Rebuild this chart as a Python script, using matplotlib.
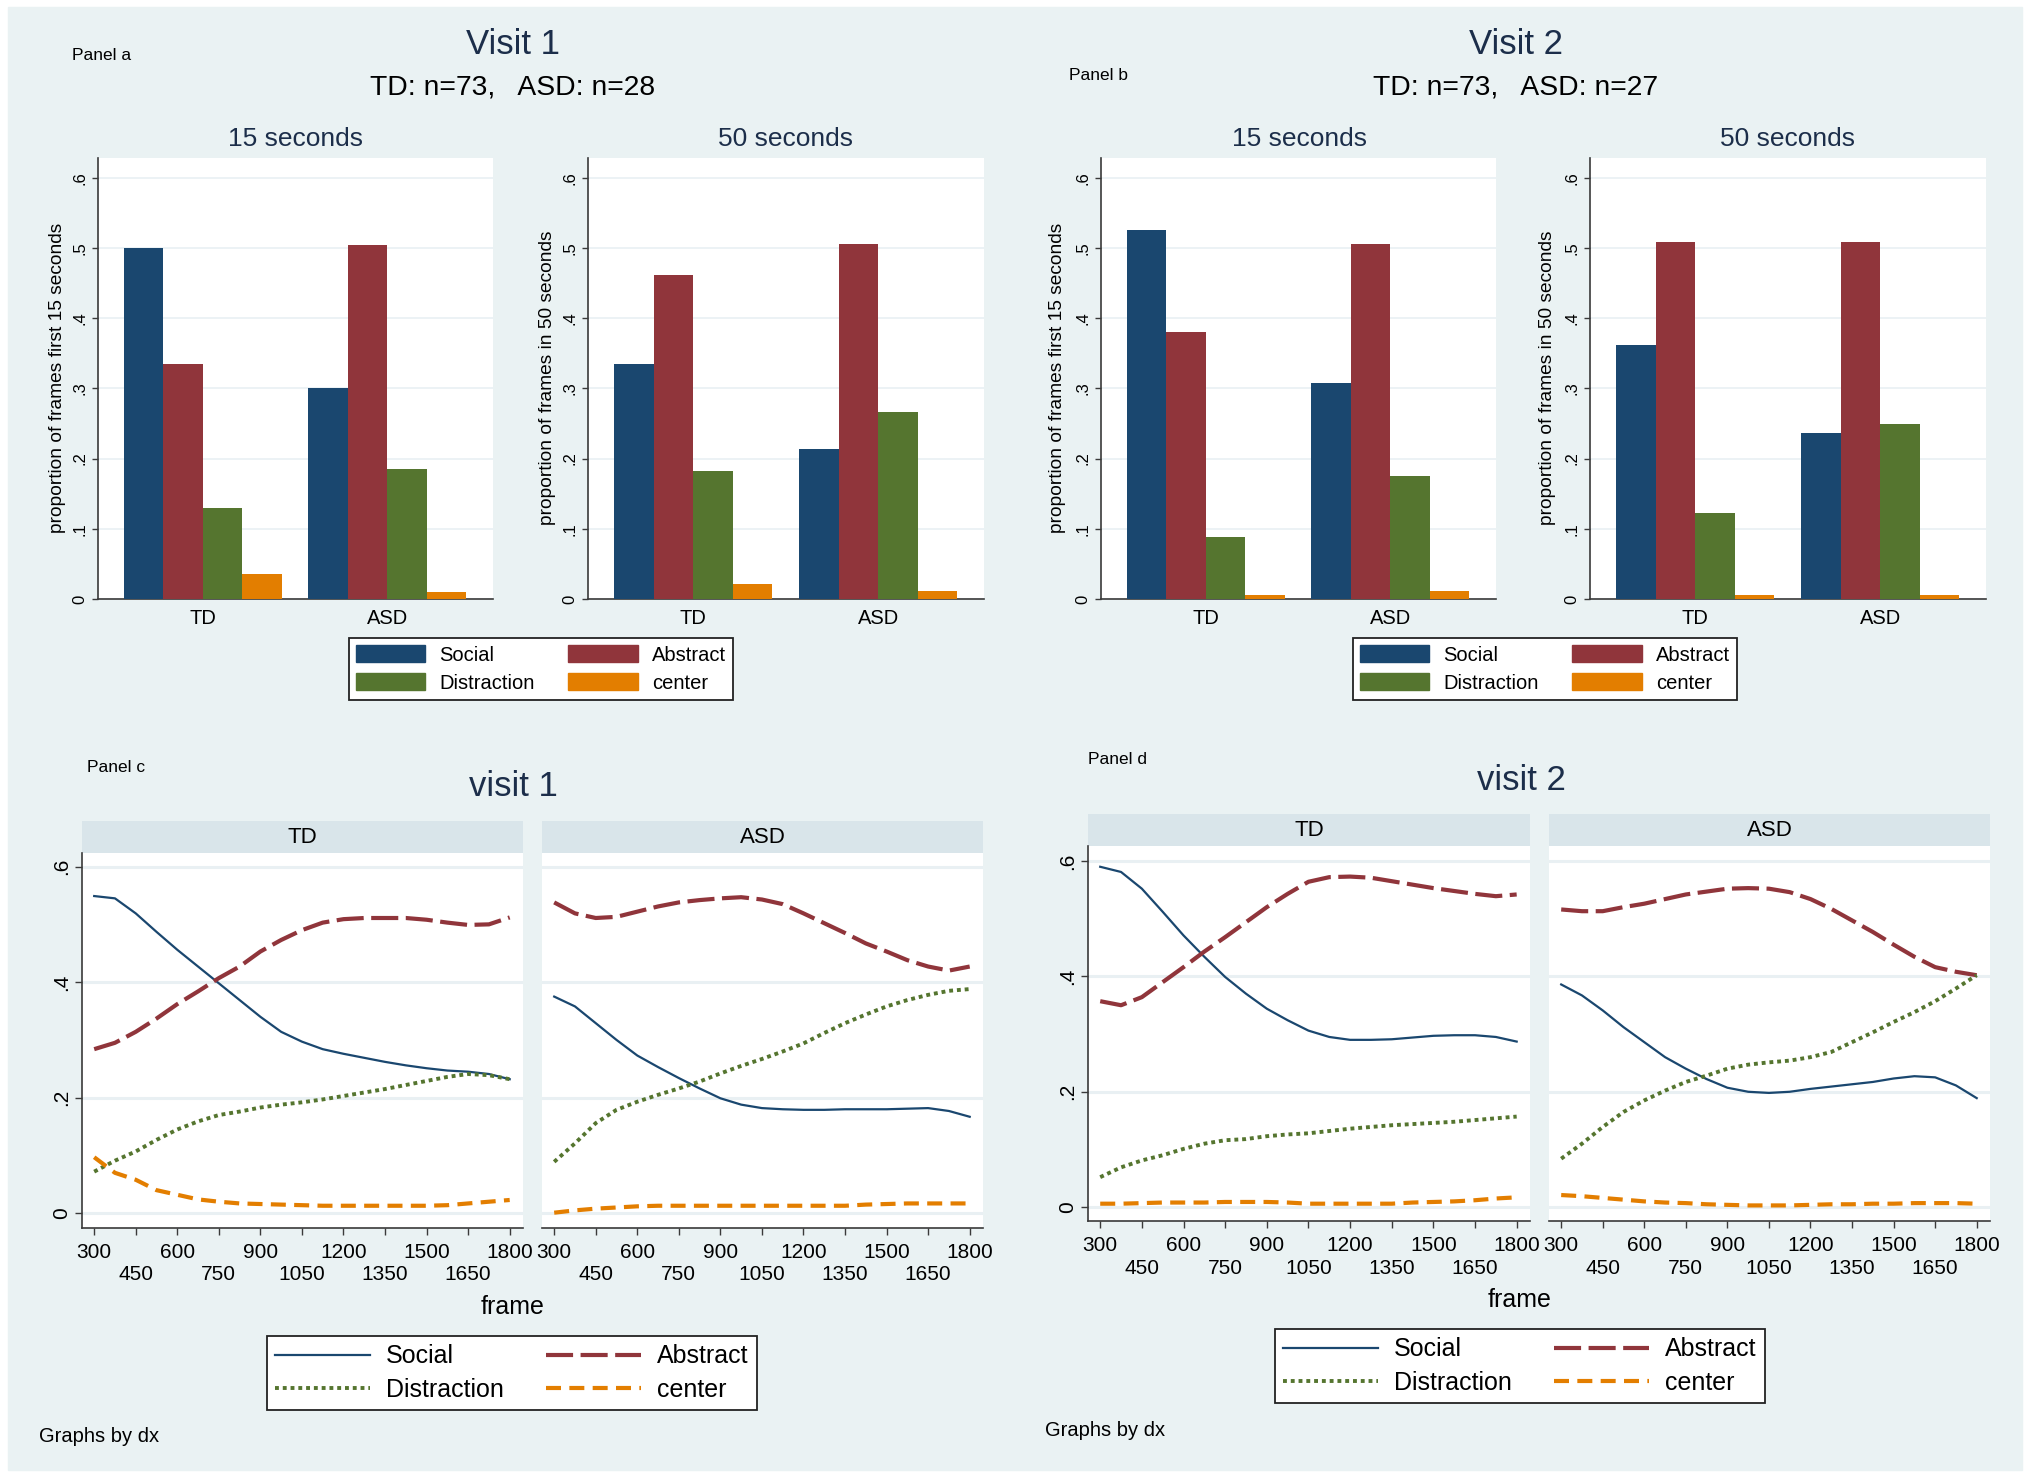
import numpy as np
import matplotlib.pyplot as plt
from matplotlib.lines import Line2D
from matplotlib.patches import Patch, Rectangle

W, H = 2030, 1478
plt.rcParams['font.family'] = ['Liberation Sans', 'DejaVu Sans']

groups = ['TD', 'ASD']
categories = ['Social', 'Abstract', 'Distraction', 'center']
colors = ['#1a476f', '#90353b', '#55752f', '#e37e00']

# bar heights, one row per category, [TD, ASD]
v1_15s = [[0.500, 0.301], [0.334, 0.504], [0.129, 0.185], [0.036, 0.010]]
v1_50s = [[0.334, 0.214], [0.462, 0.505], [0.182, 0.267], [0.021, 0.012]]
v2_15s = [[0.525, 0.308], [0.380, 0.505], [0.089, 0.175], [0.006, 0.011]]
v2_50s = [[0.362, 0.237], [0.508, 0.508], [0.122, 0.249], [0.006, 0.006]]

# smoothed proportions by frame
frames = [300, 375, 450, 525, 600, 675, 750, 825, 900, 975, 1050,
          1125, 1200, 1275, 1350, 1425, 1500, 1575, 1650, 1725, 1800]

v1_td_social = [.549, .545, .519, .487, .456, .427, .398, .369, .340, .314, .297,
                .284, .276, .269, .262, .256, .251, .247, .245, .241, .232]
v1_td_abstract = [.284, .295, .314, .337, .362, .384, .407, .427, .453, .473, .490,
                  .503, .509, .511, .511, .511, .508, .503, .499, .500, .512]
v1_td_distraction = [.072, .091, .107, .127, .145, .159, .170, .176, .183, .188, .192,
                     .197, .203, .209, .215, .222, .229, .236, .241, .239, .232]
v1_td_center = [.097, .070, .058, .040, .032, .024, .020, .017, .016, .015, .014,
                .013, .013, .013, .013, .013, .013, .014, .017, .020, .023]

v1_asd_social = [.375, .358, .329, .300, .273, .253, .234, .216, .199, .188, .182,
                 .180, .179, .179, .180, .180, .180, .181, .182, .177, .167]
v1_asd_abstract = [.538, .519, .511, .513, .522, .531, .538, .542, .545, .547, .543,
                   .535, .519, .502, .485, .467, .453, .438, .427, .420, .427]
v1_asd_distraction = [.089, .121, .156, .179, .193, .205, .216, .228, .242, .255, .267,
                      .280, .294, .312, .329, .344, .358, .369, .378, .385, .388]
v1_asd_center = [.001, .005, .008, .010, .012, .013, .013, .013, .013, .013, .013,
                 .013, .013, .013, .013, .015, .016, .017, .017, .017, .017]

v2_td_social = [.590, .581, .552, .512, .471, .434, .399, .370, .344, .324, .306,
                .295, .290, .290, .291, .294, .297, .298, .298, .295, .287]
v2_td_abstract = [.357, .350, .364, .390, .416, .443, .468, .494, .520, .543, .564,
                  .572, .573, .571, .565, .559, .553, .548, .543, .539, .542]
v2_td_distraction = [.052, .069, .081, .090, .101, .110, .116, .118, .123, .126, .128,
                     .132, .136, .139, .142, .144, .146, .148, .151, .154, .157]
v2_td_center = [.006, .006, .007, .008, .008, .008, .009, .009, .009, .008, .006,
                .006, .006, .006, .006, .008, .009, .010, .012, .015, .017]

v2_asd_social = [.386, .367, .341, .312, .286, .260, .240, .222, .207, .200, .198,
                 .200, .205, .209, .213, .217, .223, .227, .225, .211, .189]
v2_asd_abstract = [.516, .513, .513, .520, .526, .534, .542, .547, .552, .553, .552,
                   .546, .534, .517, .497, .477, .455, .434, .416, .408, .402]
v2_asd_distraction = [.084, .110, .139, .165, .185, .202, .217, .228, .240, .247, .251,
                      .254, .260, .269, .286, .303, .321, .338, .357, .379, .402]
v2_asd_center = [.021, .019, .016, .013, .010, .008, .007, .005, .004, .003, .003,
                 .003, .004, .005, .005, .006, .006, .007, .007, .007, .006]

line_styles = [dict(lw=1.6, ls='-'),
               dict(lw=3.0, ls=(0, (6.5, 1.8))),
               dict(lw=2.8, ls=(0, (1.0, 1.0))),
               dict(lw=3.0, ls=(0, (3.6, 2.0)))]

NAVY_TXT = '#1c2e4a'
AXCOL = '#3a3a3a'
GRID = '#e9f0f3'


fig = plt.figure(figsize=(W / 100, H / 100), dpi=100, facecolor='white')
fig.add_artist(Rectangle((8 / W, 1 - 1470 / H), 2014 / W, 1463 / H,
                         transform=fig.transFigure, color='#eaf2f3', zorder=-10))


def px_axes(x0, y0, x1, y1, **kw):
    return fig.add_axes([x0 / W, 1 - y1 / H, (x1 - x0) / W, (y1 - y0) / H], **kw)


def ftext(x, y, s, size, ha='center', color='black', **kw):
    fig.text(x / W, 1 - y / H, s, fontsize=size, ha=ha, va='center', color=color, **kw)


def bar_panel(x0, x1, vals, ylabel, ylab_x):
    ax = px_axes(x0, 158, x1, 599, facecolor='white')
    w = 0.214
    for i, col in enumerate(colors):
        ax.bar(np.arange(2) + (i - 1.5) * w, vals[i], width=w, color=col,
               label=categories[i], zorder=3)
    ax.set_xlim(-0.568, 1.572)
    ax.set_ylim(0, 0.628)
    ax.set_yticks([0, .1, .2, .3, .4, .5, .6])
    ax.set_yticklabels(['0', '.1', '.2', '.3', '.4', '.5', '.6'], rotation=90, va='center')
    ax.tick_params(axis='y', length=4.5, width=1, color=AXCOL, labelsize=12, pad=3)
    ax.set_xticks([0, 1])
    ax.set_xticklabels(groups)
    ax.tick_params(axis='x', length=0, labelsize=14.5, pad=7)
    ax.grid(axis='y', color=GRID, lw=1.2, zorder=0)
    for s in ['top', 'right']:
        ax.spines[s].set_visible(False)
    for s in ['left', 'bottom']:
        ax.spines[s].set_color(AXCOL)
        ax.spines[s].set_linewidth(1.2)
    ftext(ylab_x, 378, ylabel, 13.8, rotation=90)
    return ax


def bar_legend(ax, cx, cy):
    handles = [Patch(color=colors[i], label=categories[i]) for i in [0, 2, 1, 3]]
    leg = ax.legend(handles=handles, ncol=2, loc='center', bbox_to_anchor=(cx / W, 1 - cy / H),
                    bbox_transform=fig.transFigure, prop={'size': 14.5},
                    handlelength=3.45, handleheight=0.9, handletextpad=0.72,
                    columnspacing=1.65, labelspacing=0.42, borderpad=0.35,
                    fancybox=False, framealpha=1, edgecolor='#222222')
    leg.get_frame().set_linewidth(1.3)


def line_panel(x0, x1, y0, y1, strip_top, label, series, show_y, ylim):
    strip = px_axes(x0, strip_top, x1, y0, facecolor='#d9e5ea')
    strip.set_xticks([])
    strip.set_yticks([])
    for s in strip.spines.values():
        s.set_visible(False)
    strip.text(0.5, 0.47, label, transform=strip.transAxes, ha='center', va='center',
               fontsize=16)
    ax = px_axes(x0, y0, x1, y1, facecolor='white')
    for i, col in enumerate(colors):
        ax.plot(frames, series[i], color=col, label=categories[i], **line_styles[i])
    ax.set_xlim(256, 1848)
    ax.set_ylim(*ylim)
    ax.set_yticks([0, .2, .4, .6])
    ax.grid(axis='y', color=GRID, lw=2.2, zorder=0)
    upper = list(range(300, 1801, 300))
    lower = list(range(450, 1651, 300))
    ax.set_xticks(upper)
    ax.set_xticklabels([str(v) for v in upper])
    ax.set_xticks(lower, minor=True)
    ax.set_xticklabels([str(v) for v in lower], minor=True)
    ax.tick_params(axis='x', which='major', length=5, width=1, color=AXCOL, labelsize=15, pad=6)
    ax.tick_params(axis='x', which='minor', length=5, width=1, color=AXCOL, labelsize=15, pad=22)
    for s in ['top', 'right']:
        ax.spines[s].set_visible(False)
    ax.spines['bottom'].set_color(AXCOL)
    ax.spines['bottom'].set_linewidth(1.2)
    if show_y:
        ax.set_yticklabels(['0', '.2', '.4', '.6'], rotation=90, va='center')
        ax.tick_params(axis='y', length=5, width=1, color=AXCOL, labelsize=15, pad=3)
        ax.spines['left'].set_color(AXCOL)
        ax.spines['left'].set_linewidth(1.2)
    else:
        ax.spines['left'].set_visible(False)
        ax.tick_params(axis='y', length=0, labelleft=False)
    return ax


def line_legend(ax, cx, cy):
    handles = [Line2D([], [], color=colors[i], label=categories[i], **line_styles[i])
               for i in [0, 2, 1, 3]]
    leg = ax.legend(handles=handles, ncol=2, loc='center', bbox_to_anchor=(cx / W, 1 - cy / H),
                    bbox_transform=fig.transFigure, prop={'size': 18},
                    handlelength=3.8, handletextpad=0.64, columnspacing=1.7,
                    labelspacing=0.38, borderpad=0.33,
                    fancybox=False, framealpha=1, edgecolor='#222222')
    leg.get_frame().set_linewidth(1.3)


# panel a
ftext(72, 55, 'Panel a', 12.5, ha='left')
ftext(513, 45, 'Visit 1', 25, color=NAVY_TXT)
ftext(513, 87, 'TD: n=73,   ASD: n=28', 20.3)
ftext(296, 139, '15 seconds', 19, color=NAVY_TXT)
ftext(786, 139, '50 seconds', 19, color=NAVY_TXT)
ax_a1 = bar_panel(98, 493, v1_15s, 'proportion of frames first 15 seconds', 57)
ax_a2 = bar_panel(588, 984, v1_50s, 'proportion of frames in 50 seconds', 547)
bar_legend(ax_a1, 541, 669)

# panel b
ftext(1069, 76, 'Panel b', 12.5, ha='left')
ftext(1516, 45, 'Visit 2', 25, color=NAVY_TXT)
ftext(1516, 87, 'TD: n=73,   ASD: n=27', 20.3)
ftext(1299, 139, '15 seconds', 19, color=NAVY_TXT)
ftext(1788, 139, '50 seconds', 19, color=NAVY_TXT)
ax_b1 = bar_panel(1101, 1496, v2_15s, 'proportion of frames first 15 seconds', 1057)
ax_b2 = bar_panel(1590, 1986, v2_50s, 'proportion of frames in 50 seconds', 1547)
bar_legend(ax_b1, 1545, 669)

# panel c
ftext(87, 768, 'Panel c', 12.5, ha='left')
ftext(513, 787, 'visit 1', 25, color=NAVY_TXT)
ax_c1 = line_panel(82, 523, 853, 1228, 821, 'TD',
                   [v1_td_social, v1_td_abstract, v1_td_distraction, v1_td_center],
                   True, (-0.0255, 0.6235))
ax_c2 = line_panel(542, 983, 853, 1228, 821, 'ASD',
                   [v1_asd_social, v1_asd_abstract, v1_asd_distraction, v1_asd_center],
                   False, (-0.0255, 0.6235))
ftext(513, 1307, 'frame', 18)
line_legend(ax_c1, 512, 1373)
ftext(39, 1437, 'Graphs by dx', 14.5, ha='left')

# panel d
ftext(1088, 759, 'Panel d', 12.5, ha='left')
ftext(1521, 781, 'visit 2', 25, color=NAVY_TXT)
ax_d1 = line_panel(1088, 1530, 846, 1221, 814, 'TD',
                   [v2_td_social, v2_td_abstract, v2_td_distraction, v2_td_center],
                   True, (-0.024, 0.626))
ax_d2 = line_panel(1549, 1990, 846, 1221, 814, 'ASD',
                   [v2_asd_social, v2_asd_abstract, v2_asd_distraction, v2_asd_center],
                   False, (-0.024, 0.626))
ftext(1520, 1300, 'frame', 18)
line_legend(ax_d1, 1520, 1366)
ftext(1045, 1430, 'Graphs by dx', 14.5, ha='left')

fig.savefig('out.png', dpi=100, facecolor='white')
